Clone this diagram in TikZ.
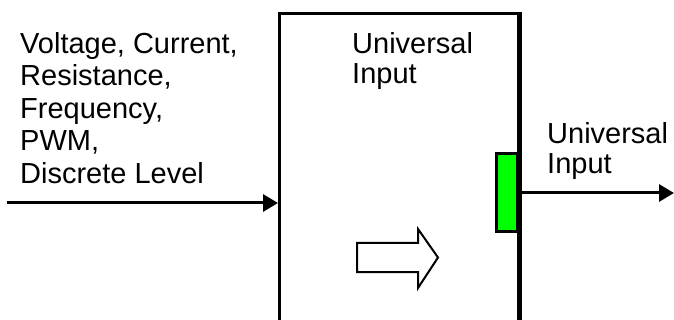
\documentclass[tikz,border=0pt]{standalone}
\usepackage{fontspec}
\setmainfont{Liberation Sans}
\usetikzlibrary{arrows.meta}
\definecolor{padgreen}{RGB}{0,255,0}
\begin{document}
\begin{tikzpicture}[x=1pt,y=-1pt,
  label/.style={inner sep=0pt,anchor=north west,align=left,
    font=\fontsize{29}{30}\selectfont},
  widelabel/.style={label,font=\fontsize{29}{32.5}\selectfont},
  wire/.style={line width=3pt,-{Triangle[length=15pt,width=17pt]}},
  unit/.style={draw,line width=3pt,inner sep=0pt,minimum width=239pt,
    minimum height=340pt,anchor=north west},
  pad/.style={draw,fill=padgreen,line width=3pt,inner sep=0pt,
    minimum width=21pt,minimum height=78pt},
  flow/.style={draw,line width=2pt,fill=white}]
\useasboundingbox (0,0) rectangle (674,320);
\clip (0,0) rectangle (674,320);

% the universal input block, open towards the bottom edge
\node[unit] (box) at (278,12) {};

% green terminal on the right side of the block
\node[pad] (pad) at (507,193) {};
\draw[line width=3pt] (box.north east) -- (box.south east);

% hollow flow arrow inside the block
\draw[flow] (357,243) -- (418,243) -- (418,229) -- (438,257.5)
  -- (418,288) -- (418,272) -- (357,272) -- cycle;

% texts
\node[widelabel] (sig) at (20,32) {Voltage, Current,\\Resistance,\\Frequency,\\PWM,\\Discrete Level};
\node[label] (inlbl) at (352,32) {Universal\\Input};
\node[label] (outlbl) at (547,122) {Universal\\Input};

% signal wires
\coordinate (src) at (7,203);
\coordinate (dst) at (674,193);
\draw[wire] (src) -- (src -| box.west);
\draw[wire] (pad.east) -- (dst);
\end{tikzpicture}
\end{document}
